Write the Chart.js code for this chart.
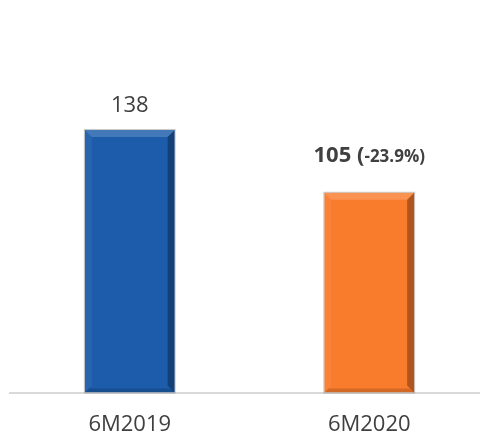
<!DOCTYPE html>
<html>
<head>
<meta charset="utf-8">
<script src="https://cdn.jsdelivr.net/npm/chart.js@4/dist/chart.umd.min.js"></script>
<style>
    html, body { margin: 0; padding: 0; background: #fff; overflow: hidden; }
    #wrap { width: 490px; height: 457px; position: relative; }
</style>
</head>
<body>
<div id="wrap"><canvas id="myChart"></canvas></div>
<script>
const periods = ['6M2019', '6M2020'];
const volumes = [138, 105];
const changes = [null, '-23.9%'];
const barColors = ['#1c5caa', '#f97b2c'];

// draws the bevelled edges over each bar
const bevelPlugin = {
    id: 'bevel',
    afterDatasetsDraw: (chart) => {
        const ctx = chart.ctx;
        chart.getDatasetMeta(0).data.forEach((bar) => {
            const l = bar.x - bar.width / 2, r = bar.x + bar.width / 2;
            const t = bar.y, b = bar.base;
            const s = 7;
            ctx.save();
            // top
            ctx.fillStyle = 'rgba(255,255,255,0.18)';
            ctx.beginPath();
            ctx.moveTo(l, t); ctx.lineTo(r, t); ctx.lineTo(r - s, t + s); ctx.lineTo(l + s, t + s);
            ctx.fill();
            // left
            ctx.fillStyle = 'rgba(255,255,255,0.06)';
            ctx.beginPath();
            ctx.moveTo(l, t); ctx.lineTo(l + s, t + s); ctx.lineTo(l + s, b - s); ctx.lineTo(l, b);
            ctx.fill();
            // right
            ctx.fillStyle = 'rgba(0,0,0,0.3)';
            ctx.beginPath();
            ctx.moveTo(r, t); ctx.lineTo(r, b); ctx.lineTo(r - s, b - s); ctx.lineTo(r - s, t + s);
            ctx.fill();
            // bottom
            ctx.fillStyle = 'rgba(0,0,0,0.15)';
            ctx.beginPath();
            ctx.moveTo(l, b); ctx.lineTo(r, b); ctx.lineTo(r - 4, b - 4); ctx.lineTo(l + 4, b - 4);
            ctx.fill();
            ctx.strokeStyle = 'rgba(150,150,150,0.5)';
            ctx.lineWidth = 1;
            ctx.strokeRect(l - 0.5, t - 0.5, bar.width + 1, b - t + 1);
            ctx.restore();
        });
    }
};

// value labels above the bars
const valueLabels = {
    id: 'valueLabels',
    afterDatasetsDraw: (chart) => {
        const ctx = chart.ctx;
        chart.getDatasetMeta(0).data.forEach((bar, i) => {
            ctx.save();
            ctx.fillStyle = '#404040';
            ctx.textBaseline = 'alphabetic';
            if (changes[i] === null) {
                ctx.font = '22px "Open Sans"';
                ctx.textAlign = 'center';
                ctx.fillText(String(volumes[i]), bar.x, bar.y - 18);
            } else {
                const big = '700 22px "Open Sans"';
                const small = '700 17px "Open Sans"';
                const a = volumes[i] + ' (';
                const c = changes[i] + ')';
                ctx.font = big;
                const wa = ctx.measureText(a).width;
                ctx.font = small;
                const wc = ctx.measureText(c).width;
                const x = bar.x - (wa + wc) / 2;
                const y = bar.y - 31;
                ctx.textAlign = 'left';
                ctx.font = big;
                ctx.fillText(a, x, y);
                ctx.font = small;
                ctx.fillText(c, x + wa, y);
            }
            ctx.restore();
        });
    }
};

const ctx = document.getElementById('myChart').getContext('2d');
const myChart = new Chart(ctx, {
    type: 'bar',
    data: {
        labels: periods,
        datasets: [{
            data: volumes,
            backgroundColor: barColors,
            borderWidth: 0,
            categoryPercentage: 1,
            barPercentage: 0.375
        }]
    },
    options: {
        responsive: true,
        maintainAspectRatio: false,
        animation: false,
        layout: { padding: { left: 10, right: 1, top: 12, bottom: 0 } },
        plugins: {
            legend: { display: false },
            tooltip: { enabled: false }
        },
        scales: {
            x: {
                grid: { display: false, drawTicks: false },
                border: { color: '#d9d9d9', width: 2 },
                ticks: {
                    color: '#404040',
                    font: { family: 'Open Sans', size: 22 },
                    padding: 19
                }
            },
            y: {
                display: false,
                min: 0,
                max: 200
            }
        }
    },
    plugins: [bevelPlugin, valueLabels]
});
</script>
</body>
</html>
